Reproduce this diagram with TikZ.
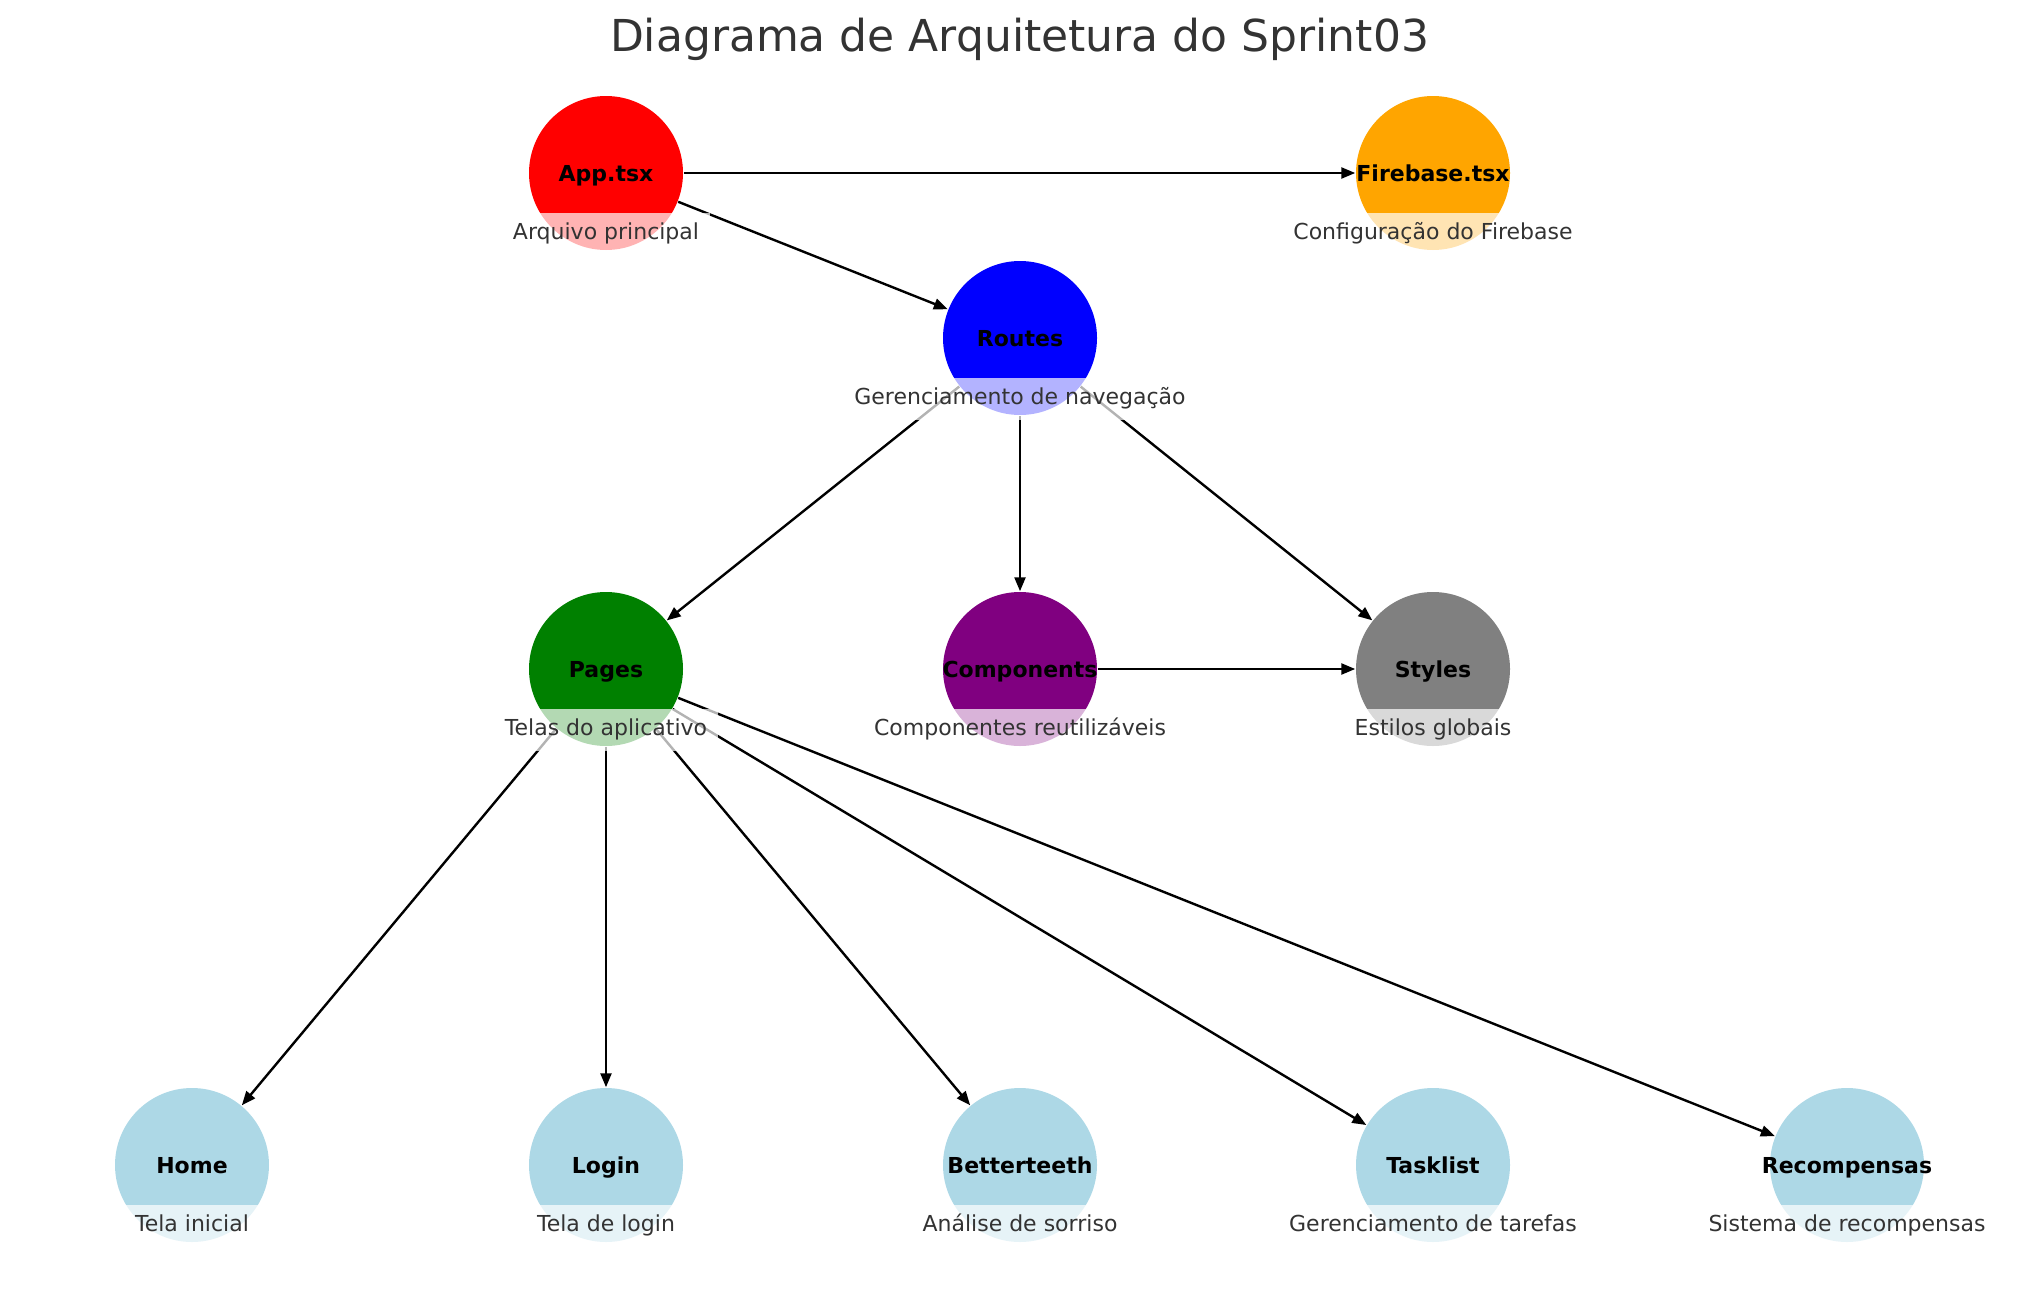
\documentclass[tikz,border=0pt]{standalone}
\usepackage{fontspec}
\setmainfont{DejaVu Sans}
\usetikzlibrary{arrows.meta}

\definecolor{mplred}{RGB}{255,0,0}
\definecolor{mplorange}{RGB}{255,165,0}
\definecolor{mplblue}{RGB}{0,0,255}
\definecolor{mplgreen}{RGB}{0,128,0}
\definecolor{mplpurple}{RGB}{128,0,128}
\definecolor{mplgray}{RGB}{128,128,128}
\definecolor{mpllightblue}{RGB}{173,216,230}
\definecolor{txtgray}{RGB}{51,51,51}

\newcommand{\complabel}[1]{\makebox[0pt]{#1}}

\tikzset{every picture/.style={line width=0.75pt}}
\tikzset{
  comp/.style={circle, draw=none, minimum size=77pt, inner sep=0pt,
    text height=8pt, text depth=0pt,
    font=\fontsize{11}{13}\selectfont\bfseries},
  desc/.style={fill=white, fill opacity=0.7, text opacity=1, text=txtgray,
    inner xsep=5.5pt, inner ysep=5pt, text height=8.4pt, text depth=2.6pt,
    font=\fontsize{11}{13}\selectfont},
  link/.style={line width=1.2pt, -{Triangle[length=7pt,width=5.5pt]}}
}

\begin{document}
\begin{tikzpicture}[x=0.5pt,y=0.5pt,yscale=-1,xscale=1]
\useasboundingbox (0,0) rectangle (2039,1290);

%Title
\node[text=txtgray, font=\fontsize{22}{26}\selectfont] (title) at (1019.5,39) {Diagrama de Arquitetura do Sprint03};

%Circles
\node[comp, fill=mplred] (app) at (606,173) {\complabel{App.tsx}};
\node[comp, fill=mplorange] (firebase) at (1433,173) {\complabel{Firebase.tsx}};
\node[comp, fill=mplblue] (routes) at (1020,338) {\complabel{Routes}};
\node[comp, fill=mplgreen] (pages) at (606,669) {\complabel{Pages}};
\node[comp, fill=mplpurple] (components) at (1020,669) {\complabel{Components}};
\node[comp, fill=mplgray] (styles) at (1433,669) {\complabel{Styles}};
\node[comp, fill=mpllightblue] (home) at (192,1165) {\complabel{Home}};
\node[comp, fill=mpllightblue] (login) at (606,1165) {\complabel{Login}};
\node[comp, fill=mpllightblue] (betterteeth) at (1020,1165) {\complabel{Betterteeth}};
\node[comp, fill=mpllightblue] (tasklist) at (1433,1165) {\complabel{Tasklist}};
\node[comp, fill=mpllightblue] (recompensas) at (1847,1165) {\complabel{Recompensas}};

%Straight Lines
\draw[link] (app) -- (firebase);
\draw[link] (app) -- (routes);
\draw[link] (routes) -- (pages);
\draw[link] (routes) -- (components);
\draw[link] (routes) -- (styles);
\draw[link] (components) -- (styles);
\foreach \p in {home,login,betterteeth,tasklist,recompensas}
  \draw[link] (pages) -- (\p);

%Descriptions
\node[desc] (appD) at ([yshift=30.5pt]app.center) {Arquivo principal};
\node[desc] (firebaseD) at ([yshift=30.5pt]firebase.center) {Configuração do Firebase};
\node[desc] (routesD) at ([yshift=30.5pt]routes.center) {Gerenciamento de navegação};
\node[desc] (pagesD) at ([yshift=30.5pt]pages.center) {Telas do aplicativo};
\node[desc] (componentsD) at ([yshift=30.5pt]components.center) {Componentes reutilizáveis};
\node[desc] (stylesD) at ([yshift=30.5pt]styles.center) {Estilos globais};
\node[desc] (homeD) at ([yshift=30.5pt]home.center) {Tela inicial};
\node[desc] (loginD) at ([yshift=30.5pt]login.center) {Tela de login};
\node[desc] (betterteethD) at ([yshift=30.5pt]betterteeth.center) {Análise de sorriso};
\node[desc] (tasklistD) at ([yshift=30.5pt]tasklist.center) {Gerenciamento de tarefas};
\node[desc] (recompensasD) at ([yshift=30.5pt]recompensas.center) {Sistema de recompensas};

\end{tikzpicture}
\end{document}
